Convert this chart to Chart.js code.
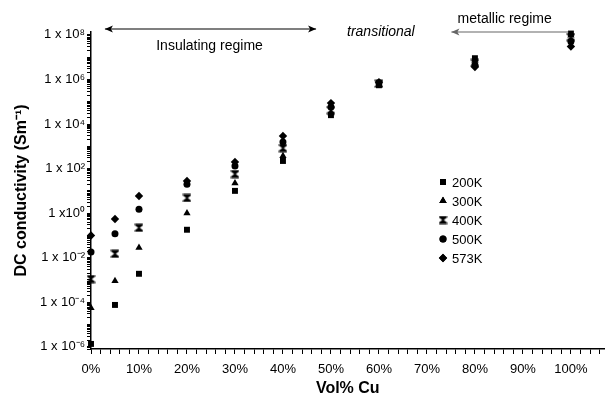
<!DOCTYPE html>
<html>
<head>
<meta charset="utf-8">
<script src="https://cdn.jsdelivr.net/npm/chart.js@4.4.1/dist/chart.umd.min.js"></script>
<style>
  html, body { margin: 0; padding: 0; background: #fff; }
  #wrap { width: 609px; height: 408px; position: relative; }
</style>
</head>
<body>
<div id="wrap"><canvas id="condChart"></canvas></div>
<script>
// Vol% Cu (as fraction) and DC conductivity (S/m)
const volCu = [0, 0.05, 0.10, 0.20, 0.30, 0.40, 0.50, 0.60, 0.80, 1.00];
const temps = ['200K', '300K', '400K', '500K', '573K'];
const k200 = [1.35e-6, 7.6e-5, 1.9e-3, 0.18, 10, 220, 2.5e4, 5.5e5, 9.0e6, 1.15e8];
const k300 = [5.6e-5, 9.0e-4, 0.028, 1.0, 22, 370, 3.1e4, 6.0e5, 7.0e6, 9.5e7];
const k400 = [1.1e-3, 0.015, 0.22, 4.8, 57, 830, 4.2e4, 6.5e5, 5.5e6, 8.0e7];
const k500 = [0.018, 0.12, 1.5, 20, 130, 1550, 5.8e4, 7.0e5, 4.5e6, 5.0e7];
const k573 = [0.1, 0.55, 5.9, 28, 200, 2900, 8.7e4, 7.5e5, 3.6e6, 3.0e7];
const yLabelPowers = [-6, -4, -2, 0, 2, 4, 6, 8];

const FONT = '"Liberation Sans", Arial, sans-serif';
Chart.defaults.font.family = FONT;
Chart.defaults.color = '#000';

function hourglass() {
  const c = document.createElement('canvas');
  c.width = 9; c.height = 9;
  const g = c.getContext('2d');
  g.fillStyle = '#000';
  g.beginPath();
  g.moveTo(0.5, 0.5); g.lineTo(8.5, 0.5); g.lineTo(8.5, 2); g.lineTo(5.3, 4.5);
  g.lineTo(8.5, 7); g.lineTo(8.5, 8.5); g.lineTo(0.5, 8.5); g.lineTo(0.5, 7);
  g.lineTo(3.7, 4.5); g.lineTo(0.5, 2);
  g.closePath(); g.fill();
  return c;
}

const styles = [
  { pointStyle: 'rect', radius: 4.2 },
  { pointStyle: 'triangle', radius: 4.2 },
  { pointStyle: hourglass(), radius: 4.5 },
  { pointStyle: 'circle', radius: 3.5 },
  { pointStyle: 'rectRot', radius: 4.2 }
];
const seriesVals = [k200, k300, k400, k500, k573];

const datasets = temps.map((t, i) => ({
  label: t,
  data: volCu.map((x, j) => ({ x: x, y: seriesVals[i][j] })),
  pointStyle: styles[i].pointStyle,
  pointRadius: styles[i].radius,
  pointHoverRadius: styles[i].radius,
  backgroundColor: '#000',
  borderColor: '#000',
  borderWidth: 0,
  showLine: false,
  clip: false
}));

const sup = { '-': '\u207B', '0': '\u2070', '1': '\u00B9', '2': '\u00B2', '3': '\u00B3',
  '4': '\u2074', '5': '\u2075', '6': '\u2076', '7': '\u2077', '8': '\u2078', '9': '\u2079' };
function powLabel(e) {
  const s = String(e).split('').map(ch => sup[ch]).join('');
  return e === 0 ? '1 x10' + s : '1 x 10' + s;
}

// legend + regime annotations
const extras = {
  id: 'extras',
  afterDraw(chart) {
    const ctx = chart.ctx;
    const xs = chart.scales.x;
    ctx.save();
    // legend
    ctx.font = '13px ' + FONT;
    ctx.textBaseline = 'middle';
    ctx.textAlign = 'left';
    ctx.fillStyle = '#000';
    temps.forEach((t, i) => {
      const y = 182 + i * 19;
      const ds = chart.data.datasets[i];
      Chart.helpers.drawPoint(ctx, { pointStyle: ds.pointStyle, radius: ds.pointRadius, rotation: 0, borderWidth: 0 }, 443, y);
      ctx.fillStyle = '#000';
      ctx.fill();
      ctx.fillText(t, 452, y + 1);
    });

    function arrow(x1, x2, y, color, heads) {
      ctx.strokeStyle = color; ctx.fillStyle = color; ctx.lineWidth = 1.2;
      ctx.beginPath(); ctx.moveTo(x1, y); ctx.lineTo(x2, y); ctx.stroke();
      heads.forEach(h => {
        const hx = h === 'l' ? x1 : x2;
        const d = h === 'l' ? 1 : -1;
        ctx.beginPath();
        ctx.moveTo(hx, y); ctx.lineTo(hx + d * 8, y - 3.5); ctx.lineTo(hx + d * 6, y); ctx.lineTo(hx + d * 8, y + 3.5);
        ctx.closePath(); ctx.fill();
      });
    }
    arrow(xs.getPixelForValue(0.029), xs.getPixelForValue(0.469), 29, '#000', ['l', 'r']);
    arrow(xs.getPixelForValue(0.751), xs.getPixelForValue(0.995), 32, '#666', ['l']);

    ctx.fillStyle = '#000';
    ctx.textAlign = 'center';
    ctx.font = '14px ' + FONT;
    ctx.fillText('Insulating regime', xs.getPixelForValue(0.247), 46);
    ctx.fillText('metallic regime', xs.getPixelForValue(0.862), 19);
    ctx.font = 'italic 14px ' + FONT;
    ctx.fillText('transitional', xs.getPixelForValue(0.604), 32);
    ctx.restore();
  }
};

new Chart(document.getElementById('condChart'), {
  type: 'scatter',
  data: { datasets: datasets },
  options: {
    responsive: true,
    maintainAspectRatio: false,
    animation: false,
    layout: { padding: { top: 32, right: 2, left: 0, bottom: 0 } },
    plugins: { legend: { display: false }, tooltip: { enabled: false } },
    scales: {
      x: {
        type: 'linear', min: 0, max: 1.07,
        afterBuildTicks: s => {
          const t = [];
          for (let i = 0; i <= 53; i++) t.push({ value: i / 50 });
          s.ticks = t;
        },
        afterFit: s => { s.height = 59; },
        ticks: {
          autoSkip: false, maxRotation: 0, padding: 8,
          font: { size: 13 }, color: '#000',
          callback: v => { const p = Math.round(v * 100); return p % 10 === 0 ? p + '%' : ''; }
        },
        grid: { drawOnChartArea: false, tickLength: 5, color: '#000', lineWidth: 1 },
        border: { color: '#000', width: 1.5 },
        title: { display: true, text: 'Vol% Cu', color: '#000',
          font: { size: 16, weight: 'bold' }, padding: { top: 0, bottom: 10 } }
      },
      y: {
        type: 'logarithmic', min: 8e-7, max: 1.35e8,
        afterBuildTicks: s => {
          const t = [];
          for (let k = -7; k <= 8; k++) {
            for (let m = 1; m <= 9; m++) {
              const v = m * Math.pow(10, k);
              if (v >= s.min && v <= s.max) t.push({ value: v });
            }
          }
          s.ticks = t;
        },
        afterFit: s => { s.width = 91; },
        ticks: {
          autoSkip: false, padding: 2, font: { size: 13 }, color: '#000',
          callback: v => {
            const e = Math.round(Math.log10(v));
            if (Math.abs(v / Math.pow(10, e) - 1) < 1e-6 && yLabelPowers.includes(e)) return powLabel(e);
            return '';
          }
        },
        grid: { drawOnChartArea: false, tickLength: 4, color: '#000', lineWidth: 1 },
        border: { color: '#000', width: 1.5 },
        title: { display: true, text: 'DC conductivity (Sm\u207B\u00B9)', color: '#000',
          font: { size: 16, weight: 'bold' }, padding: { top: 12, bottom: 0 } }
      }
    }
  },
  plugins: [extras]
});
</script>
</body>
</html>
